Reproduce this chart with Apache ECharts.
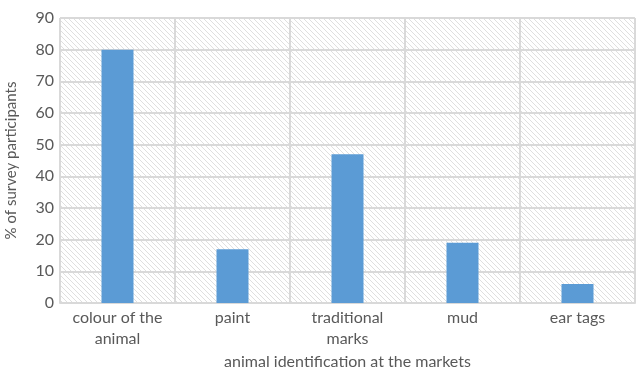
<!DOCTYPE html>
<html>
<head>
<meta charset="utf-8">
<script src="https://cdn.jsdelivr.net/npm/echarts@6/dist/echarts.min.js"></script>
<style>
  html, body { margin: 0; padding: 0; background: #fff; }
  #chart { width: 636px; height: 372px; }
</style>
</head>
<body>
<div id="chart"></div>
<script>
const categories = ['colour of the\nanimal', 'paint', 'traditional\nmarks', 'mud', 'ear tags'];
const values = [80, 17, 47, 19, 6];
const yTicks = { min: 0, max: 90, interval: 10 };

// small tile with a diagonal stripe, used as the plot-area fill
function hatchTile() {
  const s = 5;
  const c = document.createElement('canvas');
  c.width = s; c.height = s;
  const g = c.getContext('2d');
  g.fillStyle = '#ffffff';
  g.fillRect(0, 0, s, s);
  g.strokeStyle = '#dfdfdf';
  g.lineWidth = 1;
  g.beginPath();
  g.moveTo(-1, -1); g.lineTo(s + 1, s + 1);
  g.moveTo(-1, s - 1); g.lineTo(1, s + 1);
  g.moveTo(s - 1, -1); g.lineTo(s + 1, 1);
  g.stroke();
  return c;
}

const font = 'Lato, "Open Sans", sans-serif';
const chart = echarts.init(document.getElementById('chart'), null, { renderer: 'canvas' });
chart.setOption({
  animation: false,
  grid: {
    left: 60, right: 1, top: 18, bottom: 69,
    containLabel: false,
    outerBoundsMode: 'none',
    show: true,
    borderWidth: 0,
    backgroundColor: { image: hatchTile(), repeat: 'repeat' }
  },
  xAxis: {
    type: 'category',
    data: categories,
    name: 'animal identification at the markets',
    nameLocation: 'middle',
    nameGap: 49,
    nameTextStyle: { fontFamily: font, fontSize: 16, color: '#595959' },
    axisLine: { show: true, lineStyle: { color: '#d9d9d9', width: 2 } },
    axisTick: { show: false },
    splitLine: { show: true, lineStyle: { color: '#d9d9d9', width: 2 } },
    axisLabel: { fontFamily: font, fontSize: 16, color: '#595959', lineHeight: 21, margin: 4, interval: 0 }
  },
  yAxis: {
    type: 'value',
    min: yTicks.min, max: yTicks.max, interval: yTicks.interval,
    name: '% of survey participants',
    nameLocation: 'middle',
    nameGap: 41,
    nameTextStyle: { fontFamily: font, fontSize: 15, color: '#595959' },
    axisLine: { show: false },
    axisTick: { show: false },
    splitLine: { show: true, lineStyle: { color: '#d9d9d9', width: 2 } },
    axisLabel: { fontFamily: font, fontSize: 16, color: '#595959', margin: 6 }
  },
  series: [{
    type: 'bar',
    data: values,
    barWidth: 32,
    itemStyle: { color: '#5b9bd5' }
  }]
});
</script>
</body>
</html>
